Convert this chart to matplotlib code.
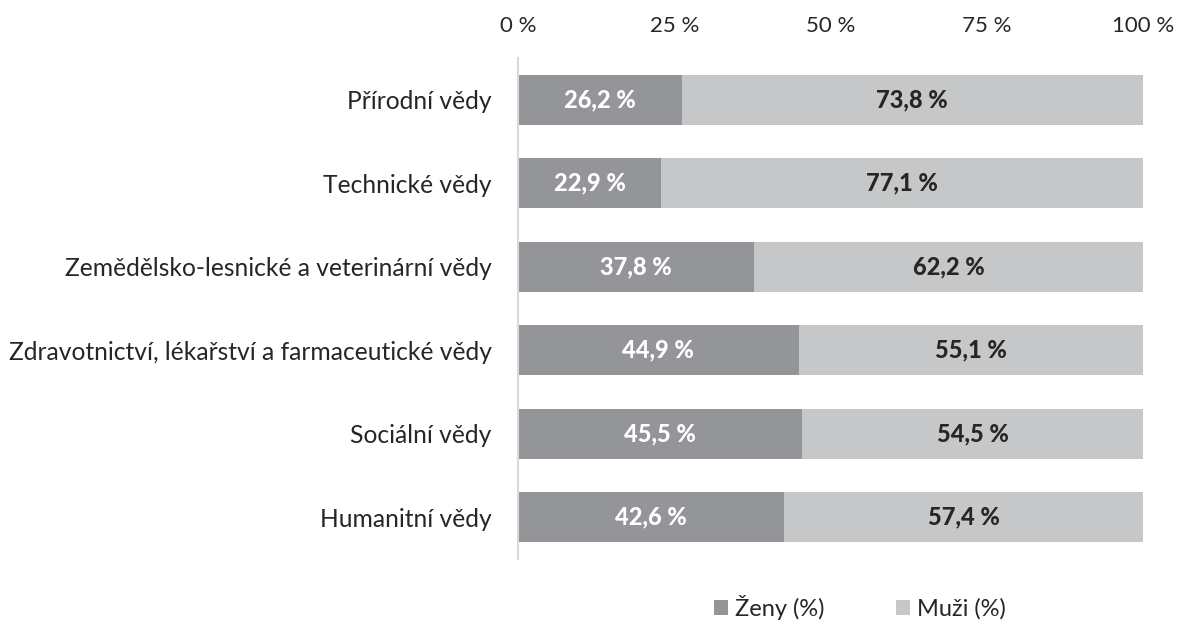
import matplotlib.pyplot as plt
import numpy as np

plt.rcParams['font.family'] = ['Lato', 'DejaVu Sans']

# data
categories = ['Přírodní vědy', 'Technické vědy', 'Zemědělsko-lesnické a veterinární vědy',
              'Zdravotnictví, lékařství a farmaceutické vědy', 'Sociální vědy', 'Humanitní vědy']
zeny = [26.2, 22.9, 37.8, 44.9, 45.5, 42.6]
muzi = [73.8, 77.1, 62.2, 55.1, 54.5, 57.4]
tick_vals = [0, 25, 50, 75, 100]
tick_labels = ['0 %', '25 %', '50 %', '75 %', '100 %']

c_zeny = '#939598'
c_muzi = '#c6c7c8'

fig = plt.figure(figsize=(11.82, 6.2), dpi=100)
ax = fig.add_axes([518 / 1182, 1 - 559 / 620, (1143 - 518) / 1182, (559 - 58) / 620])

y = np.arange(len(categories))
ax.barh(y, zeny, height=0.6, color=c_zeny, label='Ženy (%)')
ax.barh(y, muzi, left=zeny, height=0.6, color=c_muzi, label='Muži (%)')

for i in range(len(categories)):
    ax.text(zeny[i] / 2, y[i], f'{zeny[i]:.1f} %'.replace('.', ','), ha='center', va='center',
            color='white', fontweight='black', fontsize=17)
    ax.text(zeny[i] + muzi[i] / 2, y[i], f'{muzi[i]:.1f} %'.replace('.', ','), ha='center', va='center',
            color='#262626', fontweight='black', fontsize=17)

ax.set_xlim(0, 100)
ax.set_ylim(len(categories) - 0.5, -0.5)
ax.set_yticks(y)
ax.set_yticklabels(categories, fontsize=17.7, color='#262626')
ax.set_xticks(tick_vals)
ax.set_xticklabels(tick_labels, fontsize=16, color='#262626')
ax.xaxis.tick_top()
ax.tick_params(axis='both', length=0)
ax.tick_params(axis='x', pad=16)
ax.tick_params(axis='y', pad=19)
for s in ['top', 'right', 'bottom']:
    ax.spines[s].set_visible(False)
ax.spines['left'].set_color('#d9d9d9')
ax.spines['left'].set_linewidth(1.5)

leg = fig.legend(loc='center', bbox_to_anchor=(860 / 1182, 1 - 607 / 620), ncol=2, frameon=False,
                 fontsize=17, handlelength=0.6, handleheight=0.6, columnspacing=3.0, handletextpad=0.3)
for t in leg.get_texts():
    t.set_color('#262626')

fig.savefig('out.png', dpi=100)
